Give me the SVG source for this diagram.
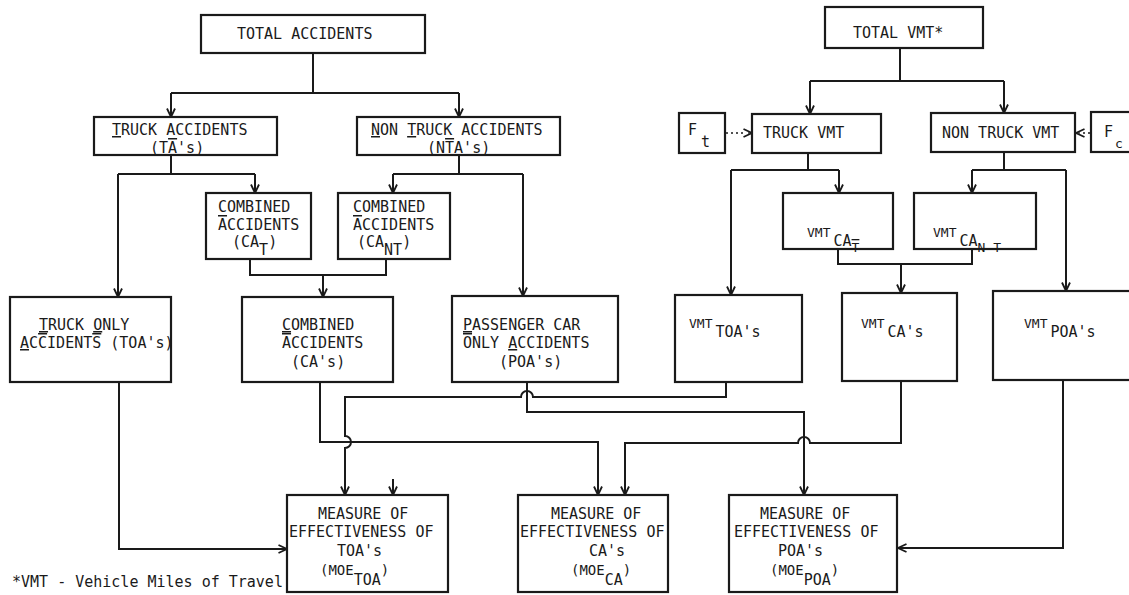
<svg xmlns="http://www.w3.org/2000/svg" width="1129" height="595" viewBox="0 0 1129 595">
<style>
  .bg{fill:#ffffff}
  .box{fill:#ffffff;stroke:#1a1a1a;stroke-width:2.2}
  .ln{fill:none;stroke:#1a1a1a;stroke-width:2}
  .dot{fill:none;stroke:#1a1a1a;stroke-width:1.6;stroke-dasharray:2 3}
  .t{font-family:"DejaVu Sans Mono","Liberation Mono",monospace;font-size:15px;fill:#1a1a1a}
  .sm{font-size:13px}
  .md{font-size:14px}
  .u{text-decoration:underline}
  .o{text-decoration:overline}
</style>
<defs>
  <marker id="ah" viewBox="0 0 10 10" refX="9.5" refY="5" markerWidth="10" markerHeight="10" markerUnits="userSpaceOnUse" orient="auto">
    <path d="M1,1 L9.5,5 L1,9" fill="none" stroke="#1a1a1a" stroke-width="1.8"/>
  </marker>
</defs>
<rect class="bg" x="0" y="0" width="1129" height="595"/>

<g id="connectors">
  <path class="ln" d="M313,53 V93 M171,93 H459"/>
  <path class="ln" marker-end="url(#ah)" d="M171,93 V117"/>
  <path class="ln" marker-end="url(#ah)" d="M459,93 V117"/>
  <path class="ln" d="M171,155 V174 M118,174 H255"/>
  <path class="ln" marker-end="url(#ah)" d="M118,174 V297"/>
  <path class="ln" marker-end="url(#ah)" d="M255,174 V193"/>
  <path class="ln" d="M459,155 V174 M393,174 H523"/>
  <path class="ln" marker-end="url(#ah)" d="M393,174 V193"/>
  <path class="ln" marker-end="url(#ah)" d="M523,174 V296"/>
  <path class="ln" d="M250,259 V275 H386 V259"/>
  <path class="ln" marker-end="url(#ah)" d="M323,275 V297"/>
  <path class="ln" d="M900,48 V81 M810,81 H1004"/>
  <path class="ln" marker-end="url(#ah)" d="M810,81 V114"/>
  <path class="ln" marker-end="url(#ah)" d="M1004,81 V113"/>
  <path class="dot" d="M726,133 H746"/>
  <path class="ln" marker-end="url(#ah)" d="M748,133 H752" style="stroke-width:1.2"/>
  <path class="dot" d="M1090,133 H1080"/>
  <path class="ln" marker-end="url(#ah)" d="M1080,133 H1076" style="stroke-width:1.2"/>
  <path class="ln" d="M808,153 V170 M731,170 H839"/>
  <path class="ln" marker-end="url(#ah)" d="M731,170 V295"/>
  <path class="ln" marker-end="url(#ah)" d="M839,170 V193"/>
  <path class="ln" d="M1004,152 V170 M972,170 H1066"/>
  <path class="ln" marker-end="url(#ah)" d="M972,170 V193"/>
  <path class="ln" marker-end="url(#ah)" d="M1066,170 V291"/>
  <path class="ln" d="M838,249 V264 H972 V249"/>
  <path class="ln" marker-end="url(#ah)" d="M901,264 V293"/>
  <path class="ln" marker-end="url(#ah)" d="M119,382 V549 H287"/>
  <path class="ln" marker-end="url(#ah)" d="M726,382 V397 H533 A6,6 0 0 0 521,397 H345 V436 A6,6 0 0 1 345,448 V495"/>
  <path class="ln" marker-end="url(#ah)" d="M393,479 V495"/>
  <path class="ln" marker-end="url(#ah)" d="M320,382 V442 H598 V495"/>
  <path class="ln" marker-end="url(#ah)" d="M901,381 V443 H810 A6,6 0 0 0 798,443 H625 V495"/>
  <path class="ln" marker-end="url(#ah)" d="M527,382 V412 H804 V495"/>
  <path class="ln" marker-end="url(#ah)" d="M1063,380 V548 H898"/>
</g>

<g id="total-accidents">
  <rect class="box" x="201" y="15" width="224" height="38"/>
  <text class="t" x="237" y="39">TOTAL ACCIDENTS</text>
</g>
<g id="truck-accidents">
  <rect class="box" x="94" y="117" width="183" height="38"/>
  <text class="t" x="112" y="135"><tspan class="u">T</tspan>RUCK ACCIDENTS</text>
  <text class="t" x="150" y="153">(T<tspan class="o">A</tspan>'s)</text>
</g>
<g id="non-truck-accidents">
  <rect class="box" x="357" y="117" width="203" height="38"/>
  <text class="t" x="371" y="135"><tspan class="u">N</tspan>ON <tspan class="u">T</tspan>RUCK ACCIDENTS</text>
  <text class="t" x="427" y="153">(N<tspan class="o">T</tspan>A's)</text>
</g>
<g id="combined-t">
  <rect class="box" x="206" y="193" width="105" height="66"/>
  <text class="t" x="218" y="212">COMBINED</text>
  <text class="t" x="218" y="230"><tspan class="o">A</tspan>CCIDENTS</text>
  <text class="t" x="232" y="247">(CA<tspan dy="8">T</tspan><tspan dy="-8">)</tspan></text>
</g>
<g id="combined-nt">
  <rect class="box" x="338" y="193" width="112" height="66"/>
  <text class="t" x="353" y="212">COMBINED</text>
  <text class="t" x="353" y="230"><tspan class="o">A</tspan>CCIDENTS</text>
  <text class="t" x="357" y="247">(CA<tspan dy="8">NT</tspan><tspan dy="-8">)</tspan></text>
</g>
<g id="truck-only">
  <rect class="box" x="10" y="297" width="161" height="85"/>
  <text class="t" x="39" y="330"><tspan class="u">T</tspan>RUCK <tspan class="u">O</tspan>NLY</text>
  <text class="t" x="20" y="348"><tspan class="u">A</tspan>C<tspan class="o">C</tspan>IDENT<tspan class="o">S</tspan> (TOA's)</text>
</g>
<g id="combined">
  <rect class="box" x="242" y="297" width="151" height="85"/>
  <text class="t" x="282" y="330"><tspan class="u">C</tspan>OMBINED</text>
  <text class="t" x="282" y="348"><tspan class="o">A</tspan>CCIDENTS</text>
  <text class="t" x="291" y="367">(CA's)</text>
</g>
<g id="passenger-only">
  <rect class="box" x="452" y="296" width="166" height="86"/>
  <text class="t" x="463" y="330"><tspan class="u">P</tspan>ASSENGER CAR</text>
  <text class="t" x="463" y="348"><tspan class="o">O</tspan>NLY <tspan class="u">A</tspan>CCIDENTS</text>
  <text class="t" x="499" y="367">(POA's)</text>
</g>

<g id="total-vmt">
  <rect class="box" x="825" y="7" width="158" height="41"/>
  <text class="t" x="853" y="38">TOTAL VMT*</text>
</g>
<g id="ft">
  <rect class="box" x="679" y="113" width="46" height="40"/>
  <text class="t" x="688" y="135">F</text>
  <text class="t" x="701" y="147">t</text>
</g>
<g id="truck-vmt">
  <rect class="box" x="752" y="114" width="129" height="39"/>
  <text class="t" x="763" y="138">TRUCK VMT</text>
</g>
<g id="non-truck-vmt">
  <rect class="box" x="931" y="113" width="144" height="39"/>
  <text class="t" x="942" y="138">NON TRUCK VMT</text>
</g>
<g id="fc">
  <rect class="box" x="1091" y="112" width="60" height="40"/>
  <text class="t" x="1104" y="137">F</text>
  <text class="t sm" x="1115" y="148">c</text>
</g>
<g id="vmt-ca-t">
  <rect class="box" x="783" y="193" width="110" height="56"/>
  <text class="t" x="807" y="237"><tspan class="sm">VMT</tspan><tspan dx="3" dy="9">CA</tspan><tspan class="sm o" dy="6">T</tspan></text>
</g>
<g id="vmt-ca-nt">
  <rect class="box" x="914" y="193" width="122" height="56"/>
  <text class="t" x="933" y="237"><tspan class="sm">VMT</tspan><tspan dx="3" dy="9">CA</tspan><tspan class="sm" dy="6">N T</tspan></text>
</g>
<g id="vmt-toa">
  <rect class="box" x="675" y="295" width="127" height="87"/>
  <text class="t" x="689" y="328"><tspan class="sm">VMT</tspan><tspan dx="3" dy="9">TOA's</tspan></text>
</g>
<g id="vmt-ca">
  <rect class="box" x="842" y="293" width="115" height="88"/>
  <text class="t" x="861" y="328"><tspan class="sm">VMT</tspan><tspan dx="3" dy="9">CA's</tspan></text>
</g>
<g id="vmt-poa">
  <rect class="box" x="993" y="291" width="150" height="89"/>
  <text class="t" x="1024" y="328"><tspan class="sm">VMT</tspan><tspan dx="3" dy="9">POA's</tspan></text>
</g>

<g id="moe-toa">
  <rect class="box" x="287" y="495" width="161" height="97"/>
  <text class="t" x="318" y="519">MEASURE OF</text>
  <text class="t" x="289" y="537">EFFECTIVENESS OF</text>
  <text class="t" x="337" y="556">TOA's</text>
  <text class="t" x="320" y="575"><tspan class="md">(MOE</tspan><tspan dy="10">TOA</tspan><tspan class="md" dy="-10">)</tspan></text>
</g>
<g id="moe-ca">
  <rect class="box" x="518" y="495" width="150" height="97"/>
  <text class="t" x="551" y="519">MEASURE OF</text>
  <text class="t" x="520" y="537">EFFECTIVENESS OF</text>
  <text class="t" x="589" y="556">CA's</text>
  <text class="t" x="571" y="575"><tspan class="md">(MOE</tspan><tspan dy="10">CA</tspan><tspan class="md" dy="-10">)</tspan></text>
</g>
<g id="moe-poa">
  <rect class="box" x="729" y="495" width="168" height="97"/>
  <text class="t" x="760" y="519">MEASURE OF</text>
  <text class="t" x="734" y="537">EFFECTIVENESS OF</text>
  <text class="t" x="778" y="556">POA's</text>
  <text class="t" x="770" y="575"><tspan class="md">(MOE</tspan><tspan dy="10">POA</tspan><tspan class="md" dy="-10">)</tspan></text>
</g>

<text class="t" x="12" y="587">*VMT - Vehicle Miles of Travel</text>
</svg>
